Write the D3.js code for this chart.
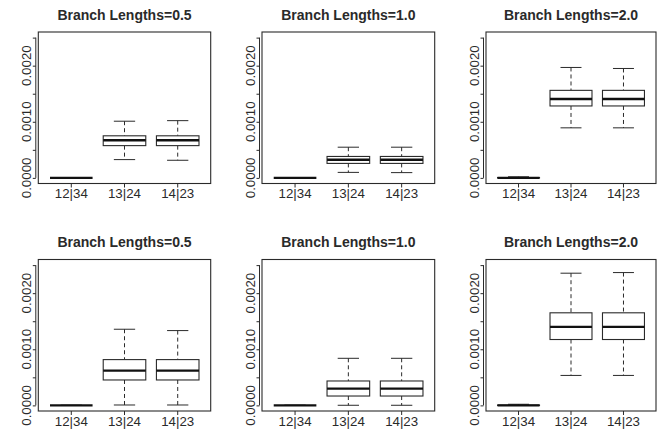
<!DOCTYPE html>
<html>
<head>
<meta charset="utf-8">
<script src="https://cdn.jsdelivr.net/npm/d3@7"></script>
<style>
  html, body { margin: 0; padding: 0; background: #fff; }
  svg { display: block; }
  text { font-family: "Liberation Sans", Arial, sans-serif; fill: #2a2a2a; }
</style>
</head>
<body>
<div id="chart"></div>
<script>
// ---- data ----
const categories = ["12|34", "13|24", "14|23"];
const panelTitles = [
  "Branch Lengths=0.5", "Branch Lengths=1.0", "Branch Lengths=2.0",
  "Branch Lengths=0.5", "Branch Lengths=1.0", "Branch Lengths=2.0"
];
const yTicks = [0, 0.0005, 0.0010, 0.0015, 0.0020, 0.0025];
const yTickLabels = ["0.0000", "", "0.0010", "", "0.0020", ""];
const yLimits = [0, 0.0025];

// five-number summaries: [lower whisker, Q1, median, Q3, upper whisker]
const topBL05 = [
  [0, 0, 0, 0, 0.000003],
  [0.000326, 0.000575, 0.00067, 0.00075, 0.00101],
  [0.000314, 0.000575, 0.00067, 0.00075, 0.00102]
];
const topBL10 = [
  [0, 0, 0, 0, 0.000003],
  [0.000098, 0.000258, 0.000323, 0.000382, 0.000547],
  [0.000094, 0.000258, 0.000323, 0.000382, 0.000547]
];
const topBL20 = [
  [0, 0, 0, 0.000005, 0.00002],
  [0.000892, 0.001282, 0.001407, 0.00156, 0.001968],
  [0.000892, 0.001282, 0.001407, 0.00156, 0.00195]
];
const bottomBL05 = [
  [0, 0, 0, 0, 0.000003],
  [0.000007, 0.000453, 0.00062, 0.000816, 0.001357],
  [0.000007, 0.000453, 0.00062, 0.000816, 0.001333]
];
const bottomBL10 = [
  [0, 0, 0, 0, 0.000003],
  [0.000002, 0.000167, 0.000298, 0.000435, 0.000839],
  [0.000002, 0.000167, 0.000298, 0.000435, 0.000839]
];
const bottomBL20 = [
  [0, 0, 0, 0.000005, 0.00002],
  [0.000534, 0.001174, 0.0014, 0.00165, 0.002356],
  [0.000534, 0.001174, 0.0014, 0.00165, 0.002367]
];
const panelStats = [topBL05, topBL10, topBL20, bottomBL05, bottomBL10, bottomBL20];

// ---- layout ----
const W = 663, H = 434;
const colLeft = [38.3, 262, 486];
const colRight = [210.7, 434.7, 656];
const rowTop = [32, 259.5];
const plotH = 151.5;
const ink = "#2a2a2a";

const svg = d3.select("#chart").append("svg")
  .attr("width", W).attr("height", H);

panelStats.forEach((stats, i) => {
  const r = Math.floor(i / 3), c = i % 3;
  const left = colLeft[c], right = colRight[c];
  const top = rowTop[r], bottom = top + plotH;

  // R-style 4% axis extension
  const n = categories.length;
  const x = d3.scaleLinear()
    .domain([0.5 - 0.04 * n, n + 0.5 + 0.04 * n])
    .range([left, right]);
  const ySpan = yLimits[1] - yLimits[0];
  const y = d3.scaleLinear()
    .domain([yLimits[0] - 0.04 * ySpan, yLimits[1] + 0.04 * ySpan])
    .range([bottom, top]);

  const g = svg.append("g");

  // title
  g.append("text")
    .attr("x", (left + right) / 2)
    .attr("y", top - 12.5)
    .attr("text-anchor", "middle")
    .style("font-size", "14px")
    .style("font-weight", "bold")
    .text(panelTitles[i]);

  // y axis (offset slightly left of frame)
  const axX = left - 2.5;
  const yAxis = d3.axisLeft(y)
    .tickValues(yTicks)
    .tickSize(3)
    .tickFormat(() => "");
  const ga = g.append("g")
    .attr("transform", `translate(${axX},0)`)
    .call(yAxis);
  ga.select(".domain")
    .attr("d", `M0,${y(yTicks[0])}V${y(yTicks[yTicks.length - 1])}`)
    .attr("stroke", ink).attr("stroke-width", 1);
  ga.selectAll(".tick line").attr("stroke", ink).attr("stroke-width", 1);

  yTicks.forEach((t, k) => {
    if (!yTickLabels[k]) return;
    g.append("text")
      .attr("transform", `translate(${left - 7.5},${y(t)}) rotate(-90)`)
      .attr("text-anchor", "middle")
      .style("font-size", "13.3px")
      .text(yTickLabels[k]);
  });

  // x axis labels and ticks
  categories.forEach((cat, k) => {
    const cx = x(k + 1);
    g.append("line")
      .attr("x1", cx).attr("x2", cx)
      .attr("y1", bottom).attr("y2", bottom + 4)
      .attr("stroke", ink).attr("stroke-width", 1);
    g.append("text")
      .attr("x", cx).attr("y", bottom + 14.5)
      .attr("text-anchor", "middle")
      .style("font-size", "13.3px")
      .text(cat);
  });

  // boxes
  const boxW = 0.8, capW = 0.4;
  stats.forEach((s, k) => {
    const pos = k + 1;
    const [lo, q1, med, q3, hi] = s;
    const cx = x(pos);
    const bx0 = x(pos - boxW / 2), bx1 = x(pos + boxW / 2);
    const cx0 = x(pos - capW / 2), cx1 = x(pos + capW / 2);
    const bg = g.append("g");
    // whiskers (dashed)
    bg.append("line")
      .attr("x1", cx).attr("x2", cx)
      .attr("y1", y(hi)).attr("y2", y(q3))
      .attr("stroke", ink).attr("stroke-width", 1)
      .attr("stroke-dasharray", "4,3");
    bg.append("line")
      .attr("x1", cx).attr("x2", cx)
      .attr("y1", y(q1)).attr("y2", y(lo))
      .attr("stroke", ink).attr("stroke-width", 1)
      .attr("stroke-dasharray", "4,3");
    // caps
    [lo, hi].forEach(v => {
      bg.append("line")
        .attr("x1", cx0).attr("x2", cx1)
        .attr("y1", y(v)).attr("y2", y(v))
        .attr("stroke", ink).attr("stroke-width", 1);
    });
    // box
    bg.append("rect")
      .attr("x", bx0).attr("y", y(q3))
      .attr("width", bx1 - bx0)
      .attr("height", Math.max(0, y(q1) - y(q3)))
      .attr("fill", "white")
      .attr("stroke", ink).attr("stroke-width", 1.1);
    // median
    bg.append("line")
      .attr("x1", bx0).attr("x2", bx1)
      .attr("y1", y(med)).attr("y2", y(med))
      .attr("stroke", "#111").attr("stroke-width", 2.4);
  });

  // frame
  g.append("rect")
    .attr("x", left).attr("y", top)
    .attr("width", right - left).attr("height", bottom - top)
    .attr("fill", "none")
    .attr("stroke", ink).attr("stroke-width", 1.1);
});
</script>
</body>
</html>
